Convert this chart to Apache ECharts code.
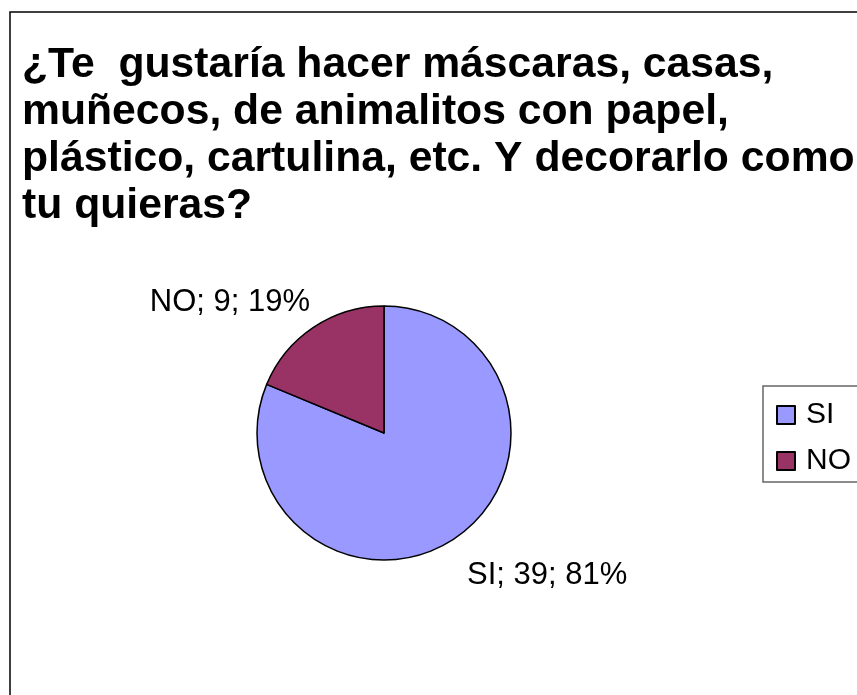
<!DOCTYPE html>
<html>
<head>
<meta charset="utf-8">
<script src="https://cdn.jsdelivr.net/npm/echarts@6/dist/echarts.min.js"></script>
<style>
  html, body { margin: 0; padding: 0; background: #fff; }
  #chart { width: 857px; height: 695px; }
</style>
</head>
<body>
<div id="chart"></div>
<script>
// Survey answers
const categories = ['SI', 'NO'];
const counts = [39, 9];
const sliceColors = ['#9999FF', '#993366'];
const titleLines = [
  '¿Te  gustaría hacer máscaras, casas,',
  'muñecos, de animalitos con papel,',
  'plástico, cartulina, etc. Y decorarlo como',
  'tu quieras?'
];

// Per-slice label placement (label line lengths, hidden lines)
const labelLineLengths = [44, 30.6];
const labelGaps = [-12, -13.6];

const FONT = '"Liberation Sans", Arial, sans-serif';
const total = counts.reduce((a, b) => a + b, 0);

const chart = echarts.init(document.getElementById('chart'), null, { renderer: 'canvas' });

chart.setOption({
  backgroundColor: '#ffffff',
  animation: false,
  textStyle: { fontFamily: FONT },
  title: {
    text: titleLines.join('\n'),
    left: 22,
    top: 42,
    padding: 0,
    textStyle: {
      fontFamily: FONT,
      fontSize: 42.7,
      fontWeight: 'bold',
      lineHeight: 47,
      color: '#000'
    }
  },
  graphic: [{
    type: 'rect',
    z: -1,
    silent: true,
    shape: { x: 10, y: 12, width: 1000, height: 1000 },
    style: { fill: 'none', stroke: '#000', lineWidth: 1.5 }
  }],
  legend: {
    data: categories,
    orient: 'vertical',
    left: 763,
    top: 386,
    padding: [14, 60, 6, 13],
    itemWidth: 18,
    itemHeight: 18,
    itemGap: 16,
    icon: 'rect',
    borderColor: '#666',
    borderWidth: 1.5,
    backgroundColor: '#fff',
    textStyle: {
      fontFamily: FONT,
      fontSize: 30,
      lineHeight: 30,
      color: '#000',
      padding: [0, 0, 0, 6]
    }
  },
  series: [{
    type: 'pie',
    center: [384, 433],
    radius: 127,
    startAngle: 90,
    clockwise: true,
    avoidLabelOverlap: false,
    itemStyle: { borderColor: '#000', borderWidth: 1.5 },
    emphasis: { disabled: true },
    label: {
      show: true,
      position: 'outside',
      fontFamily: FONT,
      fontSize: 31,
      color: '#000',
      formatter: function (p) {
        return p.name + '; ' + p.value + '; ' + Math.round(p.value / total * 100) + '%';
      }
    },
    labelLine: { show: false, length2: 0 },
    data: categories.map((name, i) => ({
      name: name,
      value: counts[i],
      itemStyle: { color: sliceColors[i] },
      label: { distanceToLabelLine: labelGaps[i] },
      labelLine: { show: false, length: labelLineLengths[i], length2: 0 }
    }))
  }]
});
</script>
</body>
</html>
